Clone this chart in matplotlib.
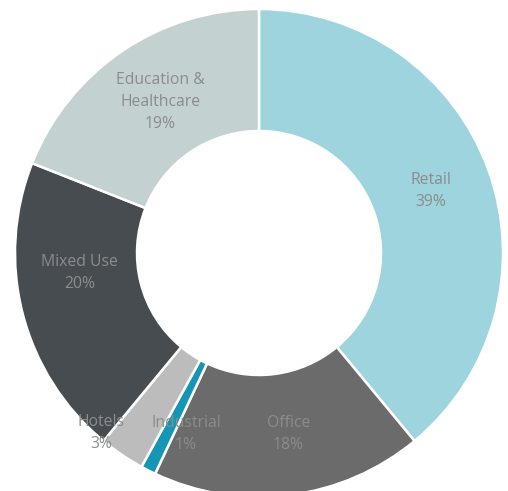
import numpy as np
import matplotlib
matplotlib.use("Agg")
import matplotlib.pyplot as plt

# sector shares (clockwise from 12 o'clock)
sectors = ["Retail", "Office", "Industrial", "Hotels", "Mixed Use", "Education &\nHealthcare"]
shares = [39, 18, 1, 3, 20, 19]
colors = ["#9dd4dd", "#6b6b6b", "#1596b4", "#bdbcbd", "#474c50", "#c3d1d1"]

# label placement tweaks: (radius, angle shift in degrees)
label_tweaks = [(0.75, 0), (0.75, 2), (0.80, 5), (0.98, -7), (0.74, -8), (0.74, -1)]

plt.rcParams["font.family"] = ["Open Sans", "DejaVu Sans"]

fig = plt.figure(figsize=(5.08, 4.91), dpi=100)
ax = fig.add_axes([0, 0, 1, 1])

wedges, _ = ax.pie(
    shares,
    colors=colors,
    startangle=90,
    counterclock=False,
    radius=1.0,
    wedgeprops=dict(width=0.5, edgecolor="white", linewidth=1.8),
)

total = sum(shares)
start = 90.0
for name, val, (r, shift) in zip(sectors, shares, label_tweaks):
    sweep = val / total * 360.0
    mid = np.deg2rad(start - sweep / 2 + shift)
    start -= sweep
    ax.text(
        r * np.cos(mid),
        r * np.sin(mid),
        f"{name}\n{val}%",
        ha="center",
        va="center",
        fontsize=11.3,
        color="#8c8c8c",
        linespacing=1.5,
    )

# centre at pixel (259, 253 from top), radius 244 px
px = 244.0
ax.set_xlim(-259 / px, (508 - 259) / px)
ax.set_ylim(-(491 - 253) / px, 253 / px)
ax.set_aspect("auto")
ax.axis("off")

fig.savefig("out.png", dpi=100)
